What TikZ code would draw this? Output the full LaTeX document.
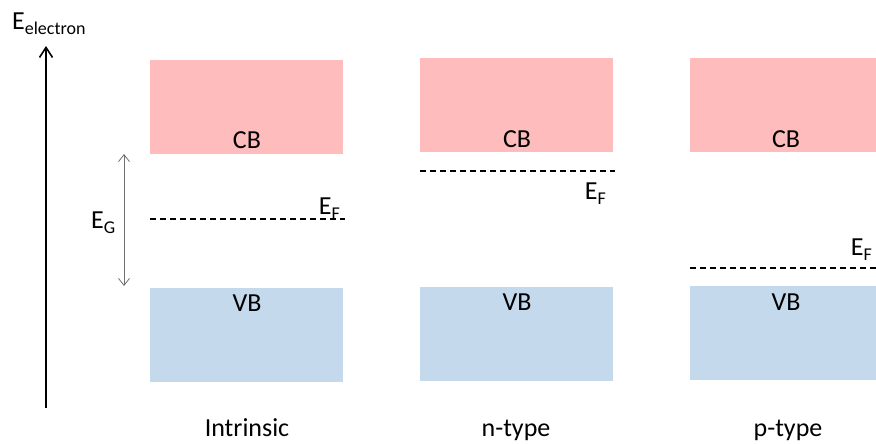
\documentclass[tikz,border=0pt]{standalone}
\usepackage{fontspec}
\setmainfont{Carlito}
\usetikzlibrary{arrows.meta}
\definecolor{cbpink}{RGB}{255,188,188}
\definecolor{vbblue}{RGB}{197,217,237}
\definecolor{egray}{RGB}{110,110,110}
\newcommand{\sbs}[1]{\raisebox{-5pt}{\fontsize{18}{18}\selectfont #1}}
\tikzset{
  cbbox/.style={fill=cbpink, draw=none, minimum width=193pt, minimum height=94pt, anchor=north west, inner sep=0pt},
  vbbox/.style={fill=vbblue, draw=none, minimum width=193pt, minimum height=94pt, anchor=north west, inner sep=0pt},
  lbl/.style={font=\fontsize{26}{26}\selectfont, inner sep=0pt},
  fermi/.style={line width=1.5pt, dash pattern=on 6pt off 4pt},
  axisarrow/.style={line width=2pt, -{Straight Barb[length=10pt,width=13pt,line width=1.6pt]}},
  gaparrow/.style={egray, line width=0.8pt, {Straight Barb[length=7pt,width=11pt]}-{Straight Barb[length=7pt,width=11pt]}}
}
\begin{document}
\begin{tikzpicture}[x=1pt,y=-1pt]
\useasboundingbox (0,0) rectangle (876,444);
\clip (0,0) rectangle (876,444);
% axis
\coordinate (axb) at (46,408);
\coordinate (axt) at (46,46);
\draw[axisarrow] (axb) -- (axt);
\node[lbl, anchor=base west] (elabel) at (12,30) {E\sbs{electron}};
% boxes
\node[cbbox] (cb1) at (150,60) {};
\node[vbbox] (vb1) at (150,288) {};
\node[cbbox] (cb2) at (420,58) {};
\node[vbbox] (vb2) at (420,287) {};
\node[cbbox] (cb3) at (690,58) {};
\node[vbbox] (vb3) at (690,286) {};
% band labels
\node[lbl, anchor=base] (cbt1) at (247,148) {CB};
\node[lbl, anchor=base] (vbt1) at (247,311) {VB};
\node[lbl, anchor=base] (cbt2) at (517,147) {CB};
\node[lbl, anchor=base] (vbt2) at (517,310) {VB};
\node[lbl, anchor=base] (cbt3) at (786,147) {CB};
\node[lbl, anchor=base] (vbt3) at (786,310) {VB};
% gap arrow
\coordinate (g1) at (124,154);
\coordinate (g2) at (124,286);
\draw[gaparrow] (g1) -- (g2);
\node[lbl, anchor=base west] (eg) at (91,228) {E\sbs{G}};
% fermi levels
\coordinate (f1a) at (150,219);
\coordinate (f1b) at (345,219);
\draw[fermi] (f1a) -- (f1b);
\node[lbl, anchor=base east] (ef1) at (340,214) {E\sbs{F}};
\coordinate (f2a) at (420,171);
\coordinate (f2b) at (615,171);
\draw[fermi] (f2a) -- (f2b);
\node[lbl, anchor=base east] (ef2) at (606,199) {E\sbs{F}};
\coordinate (f3a) at (690,268);
\coordinate (f3b) at (885,268);
\draw[fermi] (f3a) -- (f3b);
\node[lbl, anchor=base east] (ef3) at (872,255) {E\sbs{F}};
% type labels
\node[lbl, anchor=base] (t1) at (247,436) {Intrinsic};
\node[lbl, anchor=base] (t2) at (516,436) {n-type};
\node[lbl, anchor=base] (t3) at (788,436) {p-type};
\end{tikzpicture}
\end{document}
